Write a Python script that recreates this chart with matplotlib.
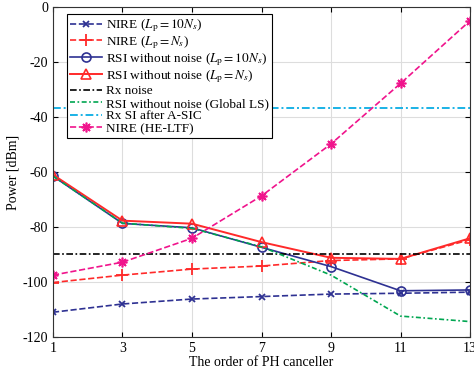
import matplotlib.pyplot as plt
import numpy as np

plt.rcParams['font.family'] = ['Liberation Serif', 'DejaVu Serif']
plt.rcParams['mathtext.fontset'] = 'stix'
plt.rcParams['axes.unicode_minus'] = False

# data
order = [1, 3, 5, 7, 9, 11, 13]
nire_10ns = [-111, -108, -106.2, -105.3, -104.4, -104.1, -103.7]
nire_ns = [-100.2, -97.5, -95.3, -94.2, -92.2, -91.6, -84.6]
rsi_10ns = [-61.5, -78.7, -80.3, -87.4, -94.4, -103.2, -102.9]
rsi_ns = [-61, -77.7, -78.8, -85.5, -91.2, -91.6, -84.1]
rx_noise = [-90] * len(order)
rsi_global = [-61.5, -78.6, -80.5, -87.2, -97.5, -112.4, -114.4]
rx_si = [-36.7] * len(order)
nire_heltf = [-97.5, -92.8, -84.1, -68.7, -49.8, -27.8, -5]

fig = plt.figure(figsize=(4.74, 3.8), dpi=100)
ax = fig.add_axes([0.1118, 0.1132, 0.8798, 0.8684])

navy = '#2E3192'
red = '#FF2A2A'
ax.plot(order, nire_10ns, '--', color=navy, marker='x', ms=5, mew=1.3, lw=1.2,
        label=r'NIRE ($L_{\rm p}=10N_s$)')
ax.plot(order, nire_ns, '--', color=red, marker='+', ms=8, mew=1.3, lw=1.2,
        label=r'NIRE ($L_{\rm p}=N_s$)')
ax.plot(order, rsi_10ns, '-', color=navy, marker='o', ms=6.5, mfc='none', mew=1.2, lw=1.2,
        label=r'RSI without noise ($L_{\rm p}=10N_s$)')
ax.plot(order, rsi_ns, '-', color=red, marker='^', ms=7.5, mfc='none', mew=1.2, lw=1.4,
        label=r'RSI without noise ($L_{\rm p}=N_s$)')
ax.plot(order, rx_noise, '-.', color='black', lw=1.2, dashes=(4, 1.5, 1, 1.5),
        label='Rx noise')
ax.plot(order, rsi_global, '-.', color='#00A651', lw=1.2, dashes=(3, 1.5, 1, 1.5),
        label='RSI without noise (Global LS)')
ax.plot(order, rx_si, '-.', color='#1AB2E6', lw=1.4, dashes=(4, 1.5, 1, 1.5),
        label='Rx SI after A-SIC')
ax.plot(order, nire_heltf, '--', color='#F0148C', marker=(8, 2, 0), ms=7, mew=1.2, lw=1.2,
        label='NIRE (HE-LTF)')

ax.set_xlim(1, 13)
ax.set_ylim(-120, 0)
ax.set_xticks(order)
ax.set_yticks(np.arange(-120, 1, 20))
ax.tick_params(direction='in', top=True, right=True, labelsize=10)
ax.grid(True, color='#DDDDDD', lw=0.8)
ax.set_axisbelow(True)
ax.set_xlabel('The order of PH canceller', fontsize=10, labelpad=1)
ax.set_ylabel('Power [dBm]', fontsize=10, labelpad=2)
for s in ax.spines.values():
    s.set_color('#333333')

leg = ax.legend(loc='upper left', bbox_to_anchor=(0.033, 0.979), fontsize=9.5,
                fancybox=False, edgecolor='black', framealpha=1,
                handlelength=2.4, labelspacing=0.02, borderpad=0.25,
                handletextpad=0.3, borderaxespad=0)
leg.get_frame().set_linewidth(0.8)

fig.savefig('out.png', dpi=100)
